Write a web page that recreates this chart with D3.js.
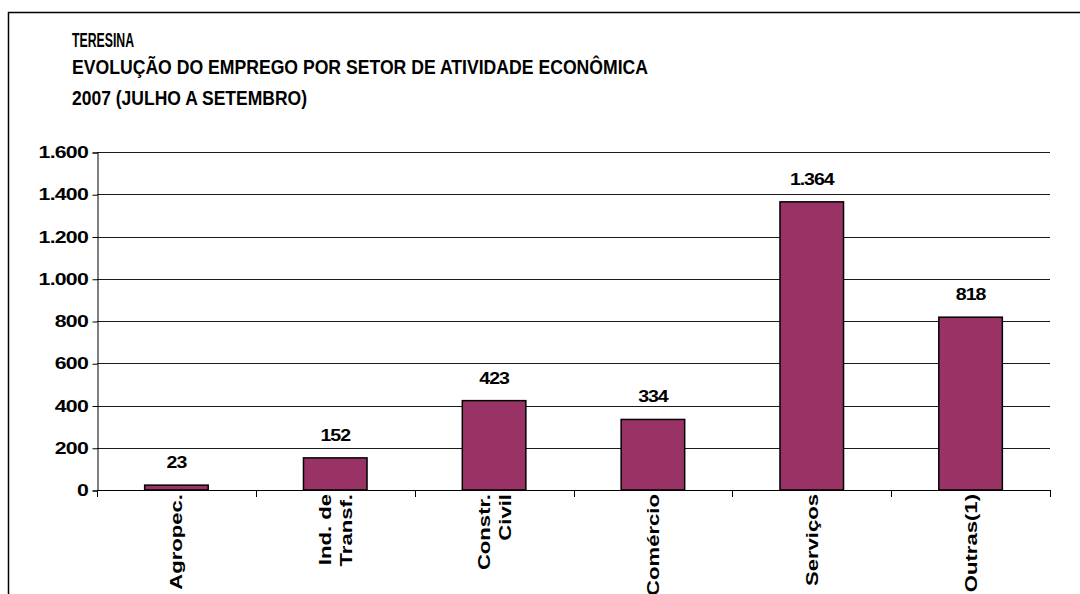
<!DOCTYPE html>
<html>
<head>
<meta charset="utf-8">
<script src="https://cdn.jsdelivr.net/npm/d3@7"></script>
<style>
  html, body { margin: 0; padding: 0; background: #fff; }
  svg { display: block; font-family: "Liberation Sans", Arial, sans-serif; }
</style>
</head>
<body>
<svg id="chart" width="1080" height="594"></svg>
<script>
// Sector labels (multi-line where the label wraps), employment balance, axis ticks
const sectors = [["Agropec."], ["Ind. de", "Transf."], ["Constr.", "Civil"], ["Comércio"], ["Serviços"], ["Outras(1)"]];
const jobs = [23, 152, 423, 334, 1364, 818];
const yTicks = [0, 200, 400, 600, 800, 1000, 1200, 1400, 1600];
const titleLines = [
  "TERESINA",
  "EVOLUÇÃO DO EMPREGO POR SETOR DE ATIVIDADE ECONÔMICA",
  "2007 (JULHO A SETEMBRO)"
];

const fmt = d3.formatLocale({ decimal: ",", thousands: ".", grouping: [3], currency: ["R$", ""] }).format(",d");

const svg = d3.select("#chart");
const plot = { left: 97, right: 1050, top: 152, bottom: 490 };
const stretch = 1.25; // horizontal glyph stretch used for the axis labels

// Outer frame (left and top edges)
svg.append("path")
  .attr("d", `M8.5,594 V12.5 H1080`)
  .attr("fill", "none").attr("stroke", "#000").attr("stroke-width", 1.5);

// Titles, condensed to their set widths
const titleY = [47, 74, 105];
const titleW = [62, 576, 235];
titleLines.forEach((t, i) => {
  svg.append("text")
    .attr("x", 72).attr("y", titleY[i])
    .attr("font-size", 20).attr("font-weight", "bold")
    .attr("textLength", titleW[i]).attr("lengthAdjust", "spacingAndGlyphs")
    .text(t);
});

const keys = sectors.map(s => s.join(" "));
const x = d3.scaleBand().domain(keys).range([plot.left, plot.right]).paddingInner(0.6).paddingOuter(0.3);
const y = d3.scaleLinear().domain([0, 1600]).range([plot.bottom, plot.top]);

// Horizontal gridlines
svg.append("g")
  .selectAll("line").data(yTicks.filter(d => d > 0)).join("line")
  .attr("x1", plot.left).attr("x2", plot.right)
  .attr("y1", d => Math.round(y(d)) + 0.5).attr("y2", d => Math.round(y(d)) + 0.5)
  .attr("stroke", "#1a1a1a").attr("stroke-width", 1);

// Y axis line and ticks
const yAxis = svg.append("g")
  .attr("transform", `translate(${plot.left + 0.5},0.5)`)
  .call(d3.axisLeft(y).tickValues(yTicks).tickFormat("").tickSize(5));
yAxis.select(".domain").attr("stroke", "#000");
yAxis.selectAll(".tick line").attr("stroke", "#000");

// Y tick labels
svg.append("g")
  .selectAll("text").data(yTicks).join("text")
  .attr("transform", d => `translate(88,${y(d) + 6}) scale(${stretch},1)`)
  .attr("text-anchor", "end")
  .attr("font-size", 17).attr("font-weight", "bold")
  .attr("letter-spacing", -0.6)
  .text(d => fmt(d));

// Bars
svg.append("g")
  .selectAll("rect").data(jobs).join("rect")
  .attr("x", (d, i) => x(keys[i]))
  .attr("y", d => y(d))
  .attr("width", x.bandwidth())
  .attr("height", d => y(0) - y(d))
  .attr("fill", "#993366")
  .attr("stroke", "#000").attr("stroke-width", 1.5);

// X axis baseline with category separators
const bounds = d3.range(0, keys.length + 1).map(i => plot.left + i * (plot.right - plot.left) / keys.length);
svg.append("line")
  .attr("x1", plot.left).attr("x2", plot.right)
  .attr("y1", plot.bottom + 0.5).attr("y2", plot.bottom + 0.5)
  .attr("stroke", "#000");
svg.append("g").selectAll("line").data(bounds).join("line")
  .attr("x1", d => Math.round(d) + 0.5).attr("x2", d => Math.round(d) + 0.5)
  .attr("y1", plot.bottom).attr("y2", plot.bottom + 7)
  .attr("stroke", "#000");

// Value labels
svg.append("g")
  .selectAll("text").data(jobs).join("text")
  .attr("transform", (d, i) => `translate(${x(keys[i]) + x.bandwidth() / 2},${y(d) - 17}) scale(1.15,1)`)
  .attr("text-anchor", "middle")
  .attr("font-size", 17).attr("font-weight", "bold")
  .attr("letter-spacing", -0.9)
  .text(d => fmt(d));

// Rotated category labels
const lineGap = 21;
sectors.forEach((lines, i) => {
  const cx = x(keys[i]) + x.bandwidth() / 2;
  const n = lines.length;
  lines.forEach((t, j) => {
    const lx = cx + (j - (n - 1) / 2) * lineGap + 6;
    svg.append("text")
      .attr("transform", `translate(${lx},${plot.bottom + 4}) rotate(-90) scale(1.3,1)`)
      .attr("text-anchor", "end")
      .attr("font-size", 17).attr("font-weight", "bold")
      .text(t);
  });
});
</script>
</body>
</html>
